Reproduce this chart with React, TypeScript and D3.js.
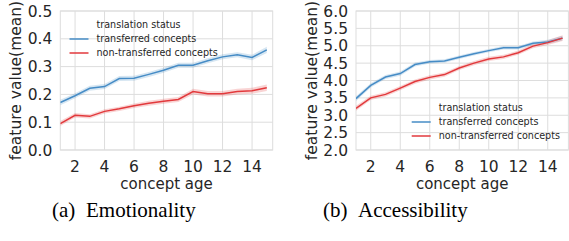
import React from "react";
import * as d3 from "d3";

const ages = [1, 2, 3, 4, 5, 6, 7, 8, 9, 10, 11, 12, 13, 14, 15];
const xTicks = [2, 4, 6, 8, 10, 12, 14];

const emoTransferred = [0.171, 0.195, 0.222, 0.228, 0.257, 0.258, 0.272, 0.287, 0.305, 0.305, 0.321, 0.335, 0.343, 0.333, 0.36];
const emoTransferredCI = [0.01, 0.009, 0.009, 0.009, 0.009, 0.009, 0.009, 0.009, 0.009, 0.009, 0.009, 0.009, 0.009, 0.01, 0.011];
const emoNon = [0.095, 0.125, 0.121, 0.139, 0.148, 0.159, 0.168, 0.175, 0.182, 0.21, 0.202, 0.202, 0.21, 0.213, 0.224];
const emoNonCI = [0.009, 0.008, 0.008, 0.008, 0.008, 0.008, 0.009, 0.009, 0.009, 0.01, 0.01, 0.01, 0.01, 0.011, 0.012];
const emoYTicks = [0.0, 0.1, 0.2, 0.3, 0.4, 0.5];

const accTransferred = [3.48, 3.86, 4.1, 4.2, 4.46, 4.54, 4.56, 4.67, 4.77, 4.86, 4.94, 4.94, 5.07, 5.11, 5.22];
const accTransferredCI = [0.07, 0.06, 0.06, 0.06, 0.06, 0.05, 0.05, 0.05, 0.05, 0.05, 0.05, 0.05, 0.05, 0.06, 0.07];
const accNon = [3.2, 3.5, 3.6, 3.78, 3.97, 4.09, 4.17, 4.36, 4.5, 4.62, 4.68, 4.8, 4.99, 5.09, 5.22];
const accNonCI = [0.07, 0.06, 0.06, 0.06, 0.06, 0.06, 0.06, 0.06, 0.06, 0.06, 0.06, 0.06, 0.06, 0.07, 0.08];
const accYTicks = [2.0, 2.5, 3.0, 3.5, 4.0, 4.5, 5.0, 5.5, 6.0];

const legendTitle = "translation status";
const seriesNames = ["transferred concepts", "non-transferred concepts"];
const colors = ["#468cc6", "#e2393c"];

const FONT = "DejaVu Sans";
const TXT = "#262626";
const GRID = "#dddddd";

type PanelProps = {
  x0: number;
  x1: number;
  yDomain: [number, number];
  yTicks: number[];
  series: { values: number[]; ci: number[] }[];
  legend: { x: number; y: number };
  yLabelX: number;
};

function Panel({ x0, x1, yDomain, yTicks, series, legend, yLabelX }: PanelProps) {
  const top = 11;
  const bottom = 150;
  const x = d3.scaleLinear().domain([1, 15.4]).range([x0, x1]);
  const y = d3.scaleLinear().domain(yDomain).range([bottom, top]);
  const line = d3
    .line<number>()
    .x((_, i) => x(ages[i]))
    .y((d) => y(d));
  const area = (vals: number[], ci: number[]) =>
    d3
      .area<number>()
      .x((_, i) => x(ages[i]))
      .y0((d, i) => y(d - ci[i]))
      .y1((d, i) => y(d + ci[i]))(vals) || "";
  return (
    <g>
      <defs>
        <clipPath id={`clip${Math.round(x0)}`}>
          <rect x={x0} y={top} width={x1 - x0} height={bottom - top} />
        </clipPath>
      </defs>
      {xTicks.map((t) => (
        <line key={"gx" + t} x1={x(t)} x2={x(t)} y1={top} y2={bottom} stroke={GRID} strokeWidth={1} />
      ))}
      {yTicks.map((t) => (
        <line key={"gy" + t} x1={x0} x2={x1} y1={y(t)} y2={y(t)} stroke={GRID} strokeWidth={1} />
      ))}
      <rect x={x0} y={top} width={x1 - x0} height={bottom - top} fill="none" stroke={GRID} strokeWidth={1} />
      <g clipPath={`url(#clip${Math.round(x0)})`}>
        {series.map((s, i) => (
          <path key={"a" + i} d={area(s.values, s.ci)} fill={colors[i]} fillOpacity={0.22} stroke="none" />
        ))}
        {series.map((s, i) => (
          <path key={"l" + i} d={line(s.values) || ""} fill="none" stroke={colors[i]} strokeWidth={1.5} />
        ))}
      </g>
      {xTicks.map((t) => (
        <text key={"tx" + t} x={x(t)} y={172} textAnchor="middle" fontFamily={FONT} fontSize={15.5} fill={TXT}>
          {t}
        </text>
      ))}
      {yTicks.map((t) => (
        <text key={"ty" + t} x={x0 - 8} y={y(t)} dy="0.36em" textAnchor="end" fontFamily={FONT} fontSize={15.5} fill={TXT}>
          {t.toFixed(1)}
        </text>
      ))}
      <text x={(x0 + x1) / 2} y={189} textAnchor="middle" fontFamily={FONT} fontSize={15} fill={TXT}>
        concept age
      </text>
      <text
        transform={`translate(${yLabelX},${(top + bottom) / 2}) rotate(-90)`}
        dy="0.36em"
        textAnchor="middle"
        fontFamily={FONT}
        fontSize={15.5}
        fill={TXT}
      >
        feature value(mean)
      </text>
      <text x={legend.x + 27} y={legend.y} dy="0.36em" fontFamily={FONT} fontSize={9.6} fill={TXT}>
        {legendTitle}
      </text>
      {seriesNames.map((n, i) => (
        <g key={"lg" + i}>
          <line
            x1={legend.x}
            x2={legend.x + 19}
            y1={legend.y + 14.5 + i * 14}
            y2={legend.y + 14.5 + i * 14}
            stroke={colors[i]}
            strokeWidth={1.5}
          />
          <text x={legend.x + 27} y={legend.y + 14.5 + i * 14} dy="0.36em" fontFamily={FONT} fontSize={9.6} fill={TXT}>
            {n}
          </text>
        </g>
      ))}
    </g>
  );
}

export default function App() {
  return (
    <svg width={569} height={241} style={{ position: "absolute", left: 0, top: 0, background: "#fff" }}>
      <rect width={569} height={241} fill="#fff" />
      <Panel
        x0={60.3}
        x1={272.7}
        yDomain={[0, 0.5]}
        yTicks={emoYTicks}
        series={[
          { values: emoTransferred, ci: emoTransferredCI },
          { values: emoNon, ci: emoNonCI },
        ]}
        legend={{ x: 69.5, y: 24.5 }}
        yLabelX={15}
      />
      <Panel
        x0={356}
        x1={568.4}
        yDomain={[2, 6]}
        yTicks={accYTicks}
        series={[
          { values: accTransferred, ci: accTransferredCI },
          { values: accNon, ci: accNonCI },
        ]}
        legend={{ x: 411.7, y: 107.5 }}
        yLabelX={311}
      />
      <text x={52} y={217} fontFamily="Liberation Serif" fontSize={21} fill="#000">(a)</text>
      <text x={86} y={217} fontFamily="Liberation Serif" fontSize={21} fill="#000">Emotionality</text>
      <text x={323} y={217} fontFamily="Liberation Serif" fontSize={21} fill="#000">(b)</text>
      <text x={358} y={217} fontFamily="Liberation Serif" fontSize={21} fill="#000">Accessibility</text>
    </svg>
  );
}
